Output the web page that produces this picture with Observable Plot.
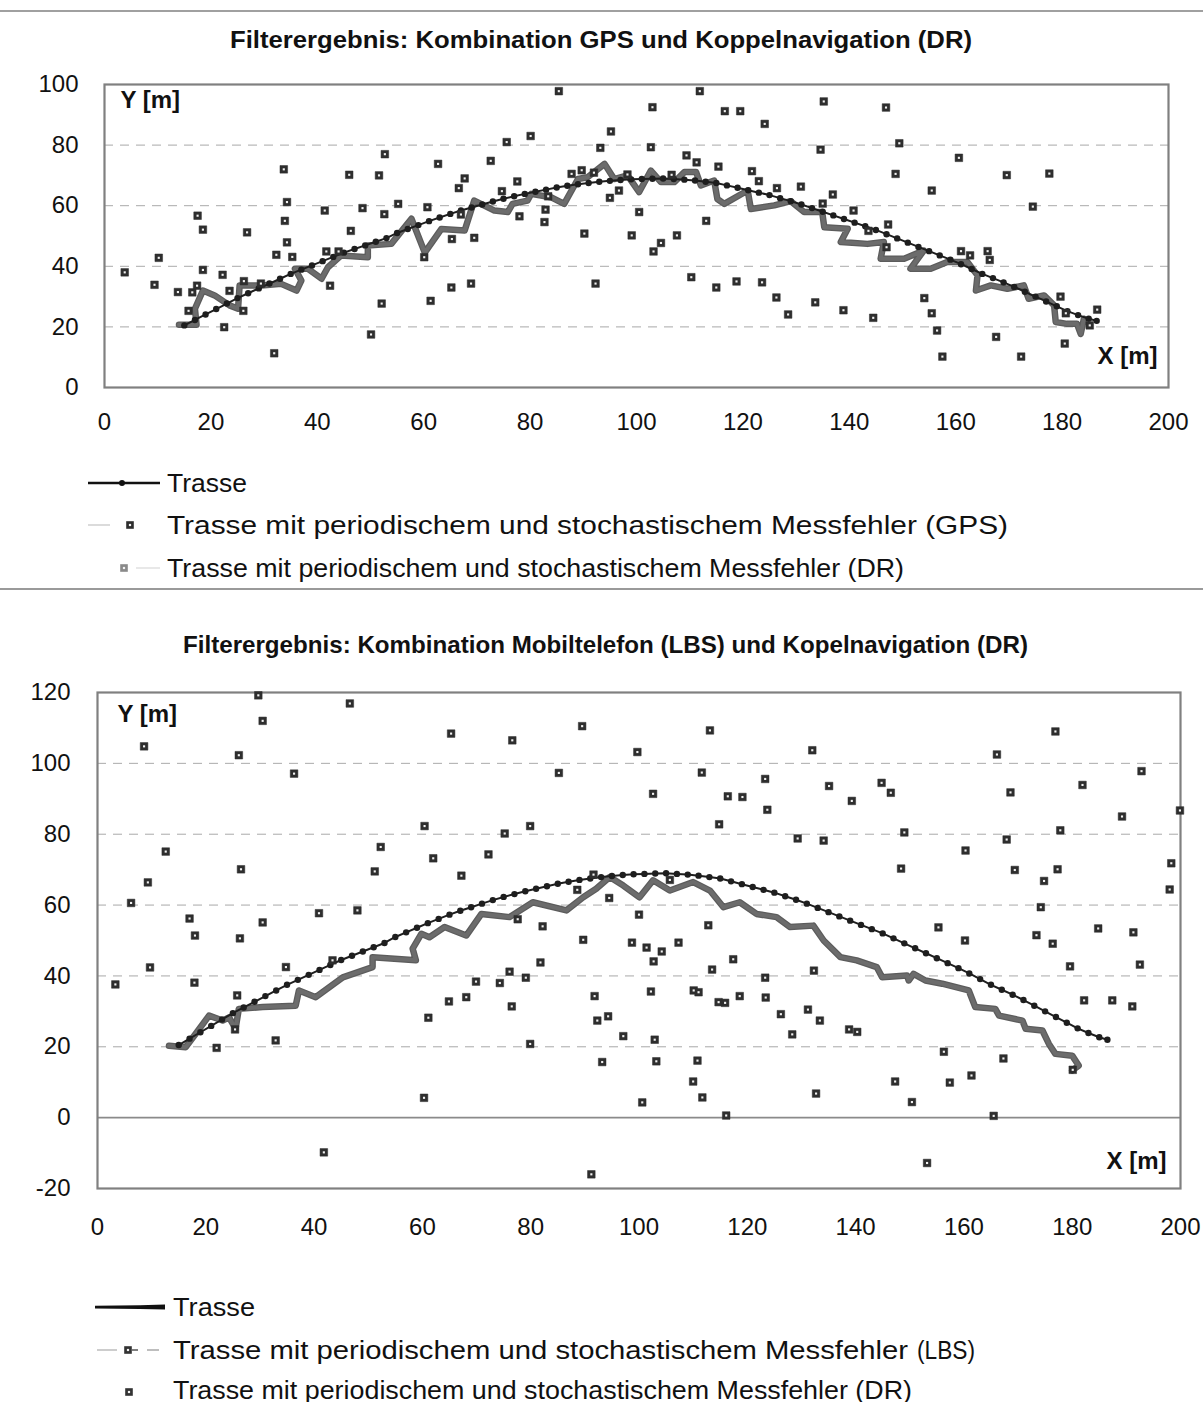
<!DOCTYPE html>
<html><head><meta charset="utf-8">
<script src="https://cdn.jsdelivr.net/npm/d3@7"></script>
<script src="https://cdn.jsdelivr.net/npm/@observablehq/plot@0.6"></script>
<style>
body{margin:0;background:#fff;font-family:"Liberation Sans",Arial,sans-serif;}
#page{position:relative;width:1203px;height:1402px;overflow:hidden;background:#fff;}
.abs{position:absolute;white-space:nowrap;line-height:1;color:#111;}
.chart{position:absolute;left:0;}
</style></head><body><div id="page"></div>
<script>
// ---------- data ----------
const xTicks = [0,20,40,60,80,100,120,140,160,180,200];
const yTicksTop = [0,20,40,60,80,100];
const yTicksBottom = [-20,0,20,40,60,80,100,120];
const gridTop = [20,40,60,80];
const gridBottom = [20,40,60,80,100];

const trasseX = [15,17,19,21,23,25,27,29,31,33,35,37,39,41,43,45,47,49,51,53,55,57,59,61,63,65,67,69,71,73,75,77,79,81,83,85,87,89,91,93,95,97,99,101,103,105,107,109,111,113,115,117,119,121,123,125,127,129,131,133,135,137,139,141,143,145,147,149,151,153,155,157,159,161,163,165,167,169,171,173,175,177,179,181,183,185,186.5];
const trasseY = [20.5,22.3,24.1,25.9,27.7,29.5,31.1,32.7,34.3,35.9,37.5,38.9,40.3,41.7,43.1,44.5,45.7,46.9,48.1,49.3,51.0,52.3,53.6,54.9,56.1,57.3,58.4,59.4,60.4,61.4,62.3,63.1,63.9,64.6,65.3,66.0,66.6,67.1,67.5,67.9,68.2,68.5,68.7,68.8,68.9,69.0,68.8,68.6,68.3,67.9,67.5,66.7,65.9,65.1,64.3,63.5,62.5,61.5,60.4,59.2,58.0,56.8,55.6,54.4,53.2,52.0,50.6,49.2,47.8,46.4,45.0,43.6,42.2,40.7,39.1,37.5,36.1,34.7,33.2,31.6,30.0,28.4,26.8,25.2,23.9,22.7,22.0];

// GPS measurements (top chart)
const gpsPoints = [[3.8,38.0],[10.2,42.8],[9.4,33.9],[13.8,31.5],[16.5,31.4],[17.4,33.6],[17.5,56.7],[18.5,52.1],[18.5,38.8],[15.8,25.3],[22.2,37.2],[23.5,31.9],[22.5,19.9],[26.2,35.1],[26.1,25.3],[26.8,51.2],[31.9,11.3],[32.3,43.8],[33.7,72.0],[34.3,61.2],[33.9,55.0],[34.3,47.9],[35.3,43.1],[29.4,34.3],[42.4,33.6],[41.4,58.4],[41.7,44.9],[44.0,44.9],[46.0,70.2],[46.3,51.7],[48.5,59.2],[50.1,17.5],[51.6,70.0],[52.1,27.7],[52.6,57.2],[52.7,77.0],[55.2,60.6],[60.7,59.5],[61.3,28.6],[60.1,43.0],[62.7,73.8],[65.2,33.0],[65.3,49.0],[66.6,65.8],
[85.4,97.8],[111.9,97.8],[103.0,92.5],[116.6,91.2],[119.5,91.2],[124.1,87.0],[75.6,81.0],[80.1,83.0],[72.6,74.8],[95.2,84.5],[93.2,79.1],[102.7,79.3],[109.4,76.6],[111.3,74.3],[115.4,72.9],[121.7,71.4],[123.0,68.1],[126.4,65.8],[130.9,66.3],[67.7,69.0],[77.6,68.0],[74.7,64.8],[83.4,63.1],[87.8,70.5],[89.7,71.7],[92.0,70.9],[98.3,70.3],[96.7,65.0],[95.0,62.6],[106.6,70.2],[67.0,57.1],[78.0,56.5],[82.7,54.6],[82.9,58.7],[100.5,57.9],[113.1,55.0],[69.5,49.4],[90.2,50.8],[99.1,50.2],[104.6,47.7],[103.2,44.9],[107.6,50.2],[68.9,34.3],[92.3,34.3],[110.3,36.4],[115.0,33.0],[118.8,35.0],[123.6,34.7],[126.3,29.7],[128.5,24.1],
[135.2,94.4],[146.9,92.4],[134.6,78.5],[149.4,80.6],[160.6,75.8],[148.7,70.5],[169.6,70.1],[177.6,70.6],[155.5,65.0],[136.9,63.7],[174.5,59.7],[135.0,60.7],[140.8,58.4],[143.6,51.7],[147.3,53.8],[147.0,46.3],[161.0,45.0],[162.7,43.6],[166.0,45.0],[166.4,42.1],[179.7,30.0],[180.7,24.5],[186.6,25.7],[185.2,20.5],[133.6,28.1],[138.9,25.5],[144.5,23.0],[154.1,29.5],[155.5,24.5],[156.5,18.8],[157.5,10.2],[167.6,16.7],[172.3,10.2],[180.5,14.5]];

// filtered DR track (top chart)
const drTop = [[14.0,20.7],[17.3,20.7],[17.0,26.0],[18.5,32.0],[20.7,30.4],[23.5,27.1],[25.1,26.0],[25.4,33.7],[29.5,33.7],[33.2,34.2],[36.1,32.0],[37.0,35.3],[35.8,39.2],[38.2,39.2],[40.8,35.9],[42.0,39.7],[44.5,43.6],[49.5,43.0],[49.5,46.9],[53.9,47.4],[57.7,55.7],[60.2,44.5],[63.3,52.3],[67.7,51.8],[69.5,61.7],[73.3,58.4],[75.8,57.9],[76.7,60.6],[79.5,61.7],[80.2,63.9],[83.9,62.8],[86.4,60.6],[89.0,68.8],[90.8,69.4],[94.0,73.8],[95.8,68.8],[98.3,70.0],[100.5,64.5],[102.7,71.6],[104.6,67.8],[107.1,67.8],[109.0,71.1],[111.2,71.1],[112.1,66.7],[114.6,68.3],[115.2,62.2],[116.5,60.6],[120.9,65.0],[121.5,58.9],[125.9,60.1],[129.0,61.5],[131.5,57.9],[134.9,57.9],[135.3,52.9],[139.7,52.4],[138.4,48.0],[143.4,47.4],[146.5,48.0],[145.9,42.5],[150.3,42.5],[154.0,45.2],[151.5,39.2],[155.3,39.2],[158.4,41.4],[162.2,41.4],[164.1,37.0],[163.8,32.0],[166.6,33.7],[169.7,32.6],[172.8,33.7],[173.7,29.3],[176.6,30.4],[178.5,27.1],[178.8,21.6],[180.9,21.0],[182.8,21.0],[183.5,17.7],[184.1,22.7]];

// LBS measurements (bottom chart)
const lbsPoints = [[8.6,104.8],[26.1,102.3],[30.5,112.0],[29.7,119.2],[46.6,116.9],[36.3,97.1],[65.3,108.4],[12.6,75.1],[9.3,66.4],[6.2,60.6],[17.0,56.2],[18.0,51.4],[26.5,70.1],[26.3,50.6],[30.5,55.1],[9.7,42.4],[3.3,37.6],[17.9,38.1],[25.8,34.5],[34.8,42.5],[22.0,19.7],[32.9,21.8],[25.4,24.9],[40.9,57.7],[48.0,58.5],[43.4,44.4],[51.2,69.5],[52.3,76.4],[60.4,82.3],[62.0,73.2],[67.2,68.3],[64.9,32.8],[68.1,34.0],[61.1,28.2],[60.3,5.6],[41.8,-9.8],
[89.5,110.5],[76.6,106.5],[113.1,109.3],[99.7,103.2],[132.0,103.7],[85.2,97.3],[111.6,97.4],[123.3,95.6],[102.6,91.4],[116.4,90.7],[119.1,90.5],[123.7,86.9],[79.9,82.3],[114.8,82.8],[75.2,80.2],[129.3,78.8],[134.1,78.2],[72.2,74.3],[91.6,68.6],[88.6,64.3],[94.5,62.0],[105.7,67.1],[100.0,57.3],[77.6,56.0],[82.2,54.0],[112.8,54.3],[89.7,50.2],[98.7,49.4],[101.4,48.0],[104.2,46.9],[107.3,49.4],[102.7,44.1],[81.8,43.8],[117.4,44.7],[76.1,41.2],[113.5,41.8],[132.3,41.5],[79.1,39.5],[123.3,39.5],[69.9,38.4],[74.3,38.0],[76.5,31.4],[91.8,34.3],[102.2,35.6],[110.1,35.9],[111.0,35.4],[114.7,32.6],[115.9,32.4],[118.6,34.3],[123.4,33.9],[126.2,29.2],[131.2,30.5],[133.4,27.4],[128.3,23.5],[92.3,27.4],[94.3,28.6],[97.1,23.0],[102.9,22.0],[79.9,20.8],[93.2,15.7],[103.2,15.9],[110.8,16.1],[110.0,10.2],[111.7,5.7],[100.6,4.3],[116.1,0.6],[132.7,6.8],[91.2,-16.0],
[176.9,109.0],[166.1,102.5],[192.8,97.8],[135.1,93.6],[144.8,94.5],[146.5,91.7],[139.3,89.4],[168.6,91.8],[181.9,93.9],[189.2,85.0],[199.9,86.7],[149.0,80.5],[177.8,81.1],[167.9,78.5],[160.3,75.4],[148.4,70.3],[169.4,69.9],[177.3,70.1],[174.8,66.8],[198.3,71.8],[198.0,64.4],[174.2,59.4],[155.3,53.7],[184.8,53.4],[191.3,52.3],[173.4,51.5],[176.4,49.1],[160.2,50.0],[179.6,42.7],[192.5,43.2],[182.2,33.1],[187.4,33.1],[191.1,31.4],[138.8,24.9],[140.3,24.2],[156.3,18.6],[167.3,16.7],[147.3,10.2],[157.4,9.9],[161.4,11.9],[150.4,4.4],[165.5,0.5],[180.1,13.5],[153.2,-12.8]];

// filtered DR track (bottom chart)
const drBottom = [[13.2,20.3],[16.3,19.9],[18.1,23.6],[20.6,28.8],[23.1,27.4],[24.3,28.3],[25.5,25.1],[26.1,30.7],[30.5,31.2],[36.6,31.6],[37.2,35.9],[40.3,34.0],[45.3,39.6],[50.8,42.5],[50.8,45.3],[58.8,44.4],[58.2,47.7],[59.8,51.9],[61.3,50.9],[64.1,53.8],[68.1,51.4],[70.9,57.5],[76.1,56.6],[80.4,60.8],[86.6,58.5],[89.7,62.2],[92.1,64.6],[94.6,67.9],[97.1,65.5],[100.1,62.2],[102.6,67.0],[105.7,64.1],[110.0,66.5],[113.1,64.1],[115.6,59.4],[118.6,60.8],[121.7,57.5],[125.4,56.6],[127.9,53.8],[132.2,54.2],[134.1,50.0],[137.2,45.3],[140.2,44.4],[143.9,42.5],[144.9,39.6],[149.5,40.1],[149.8,38.7],[150.7,40.6],[152.9,38.7],[156.0,37.8],[160.9,35.9],[162.1,31.2],[165.8,30.7],[166.5,28.8],[170.8,27.4],[171.4,25.1],[174.5,24.6],[175.7,20.8],[176.9,18.0],[180.0,17.5],[181.2,14.7],[180.0,13.3]];

// ---------- build ----------
const trasse = trasseX.map((x,i)=>({x, y: trasseY[i]}));
const page = document.getElementById("page");
const FONT = "'Liberation Sans', Arial, Helvetica, sans-serif";

function label(txt, left, cy, width, size, weight){
  const s = document.createElement("span");
  s.className = "abs"; s.textContent = txt;
  s.style.fontSize = size+"px"; s.style.fontWeight = weight||"normal";
  s.style.left = left+"px"; s.style.fontFamily = FONT;
  page.appendChild(s);
  const r = s.getBoundingClientRect();
  s.style.top = (cy - r.height/2)+"px";
  s.style.transformOrigin = "0 50%";
  s.style.transform = `scaleX(${width/r.width})`;
}

function chart(opts){
  const {points, dr, yTicks, grid, yDomain, width, height, mL, mR, mT, mB, xPad, yPad, zero, yLab, xLab} = opts;
  const marks = [
    Plot.gridY(grid, {stroke:"#8c8c8c", strokeOpacity:0.75, strokeDasharray:"9,7", strokeWidth:1}),
  ];
  if (zero) marks.push(Plot.ruleY([0], {stroke:"#8a8a8a", strokeWidth:1.6}));
  marks.push(
    Plot.frame({stroke:"#808080", strokeWidth:2.2}),
    Plot.line(dr, {x:d=>d[0], y:d=>d[1], stroke:"#5c5c5c", strokeWidth:6.5, strokeLinejoin:"round"}),
    Plot.line(dr, {x:d=>d[0], y:d=>d[1], stroke:"#6c6c6c", strokeWidth:4, strokeLinejoin:"round"}),
    Plot.line(trasse, {x:"x", y:"y", stroke:"#1e1e1e", strokeWidth:2}),
    Plot.dot(trasse, {x:"x", y:"y", r:3.2, fill:"#1e1e1e"}),
    Plot.dot(points, {x:d=>d[0], y:d=>d[1], symbol:"square", r:4.3, fill:"#2e2e2e", stroke:"#2e2e2e", strokeWidth:0.5}),
    Plot.dot(points, {x:d=>d[0], y:d=>d[1], symbol:"square", r:1.2, fill:"#f2f2f2"}),
    Plot.axisX(xTicks, {tickSize:0, tickPadding:xPad, fontSize:24, fill:"#111"}),
    Plot.axisY(yTicks, {tickSize:0, tickPadding:yPad, fontSize:24, fill:"#111", tickFormat:d=>String(d)}),
    Plot.text(["Y [m]"], {text:d=>d, frameAnchor:"top-left", dx:yLab[0], dy:yLab[1], textAnchor:"start", lineAnchor:"top", fontWeight:"bold", fontSize:24, fill:"#111"}),
    Plot.text(["X [m]"], {text:d=>d, frameAnchor:"bottom-right", dx:xLab[0], dy:xLab[1], textAnchor:"end", lineAnchor:"bottom", fontWeight:"bold", fontSize:24, fill:"#111"})
  );
  return Plot.plot({
    width, height, marginLeft:mL, marginRight:mR, marginTop:mT, marginBottom:mB,
    x:{domain:[0,200], label:null},
    y:{domain:yDomain, label:null},
    style:{fontFamily:FONT, background:"transparent", color:"#111", overflow:"visible"},
    marks
  });
}

const topChart = chart({points:gpsPoints, dr:drTop, yTicks:yTicksTop, grid:gridTop, yDomain:[0,100],
  width:1203, height:400, mL:104, mR:35, mT:24, mB:73, xPad:25, yPad:26, zero:false,
  yLab:[16,6], xLab:[-11,-24]});
const d1 = document.createElement("div"); d1.className="chart"; d1.style.top="60px"; d1.appendChild(topChart); page.appendChild(d1);

const botChart = chart({points:lbsPoints, dr:drBottom, yTicks:yTicksBottom, grid:gridBottom, yDomain:[-20,120],
  width:1203, height:580, mL:97, mR:23, mT:22, mB:62, xPad:29, yPad:27, zero:true,
  yLab:[20,12], xLab:[-14,-20]});
const d2 = document.createElement("div"); d2.className="chart"; d2.style.top="670px"; d2.appendChild(botChart); page.appendChild(d2);

// ---------- decorations: separators and legend symbols ----------
const deco = d3.select(page).append("svg").attr("width",1203).attr("height",1402)
  .style("position","absolute").style("left",0).style("top",0).style("pointer-events","none");
deco.append("line").attr("x1",0).attr("x2",1203).attr("y1",11).attr("y2",11).attr("stroke","#a0a0a0").attr("stroke-width",2);
deco.append("line").attr("x1",0).attr("x2",1203).attr("y1",589).attr("y2",589).attr("stroke","#9a9a9a").attr("stroke-width",2);

function sq(x,y,fill){
  deco.append("rect").attr("x",x-3.8).attr("y",y-3.8).attr("width",7.6).attr("height",7.6).attr("fill",fill);
  deco.append("rect").attr("x",x-1.1).attr("y",y-1.1).attr("width",2.2).attr("height",2.2).attr("fill","#f2f2f2");
}
function ln(x1,x2,y,stroke,w,dash){ const l=deco.append("line").attr("x1",x1).attr("x2",x2).attr("y1",y).attr("y2",y).attr("stroke",stroke).attr("stroke-width",w); if(dash) l.attr("stroke-dasharray",dash); }
// top legend
ln(88,160,483,"#111",2.5); deco.append("circle").attr("cx",122).attr("cy",483).attr("r",3).attr("fill","#111");
ln(88,110,525,"#cfcfcf",1.5); sq(130,525,"#2e2e2e");
sq(124,568,"#8a8a8a"); ln(136,160,568,"#e0e0e0",1.5);
// bottom legend
deco.append("path").attr("d","M95,1305.8 L140,1305.2 L165,1304.5 L165,1309.5 L140,1309 L95,1308.4 Z").attr("fill","#111");
ln(97,117,1350,"#bdbdbd",1.5); sq(128,1350,"#333"); ln(132,138,1350,"#555",1.5); ln(147,159,1350,"#a8a8a8",1.5);
sq(129,1392,"#333");

// ---------- texts ----------
label("Filterergebnis: Kombination GPS und Koppelnavigation (DR)", 230, 40, 742, 24, "bold");
label("Trasse", 167, 483, 80, 25);
label("Trasse mit periodischem und stochastischem Messfehler (GPS)", 167, 525, 841, 25);
label("Trasse mit periodischem und stochastischem Messfehler (DR)", 167, 568, 737, 25);
label("Filterergebnis: Kombination Mobiltelefon (LBS) und Kopelnavigation (DR)", 183, 645, 845, 24, "bold");
label("Trasse", 173, 1307, 82, 25);
label("Trasse mit periodischem und stochastischem Messfehler", 173, 1350, 735, 25);
label("(LBS)", 917, 1350, 58, 25);
label("Trasse mit periodischem und stochastischem Messfehler (DR)", 173, 1390, 739, 25);
</script></body></html>
